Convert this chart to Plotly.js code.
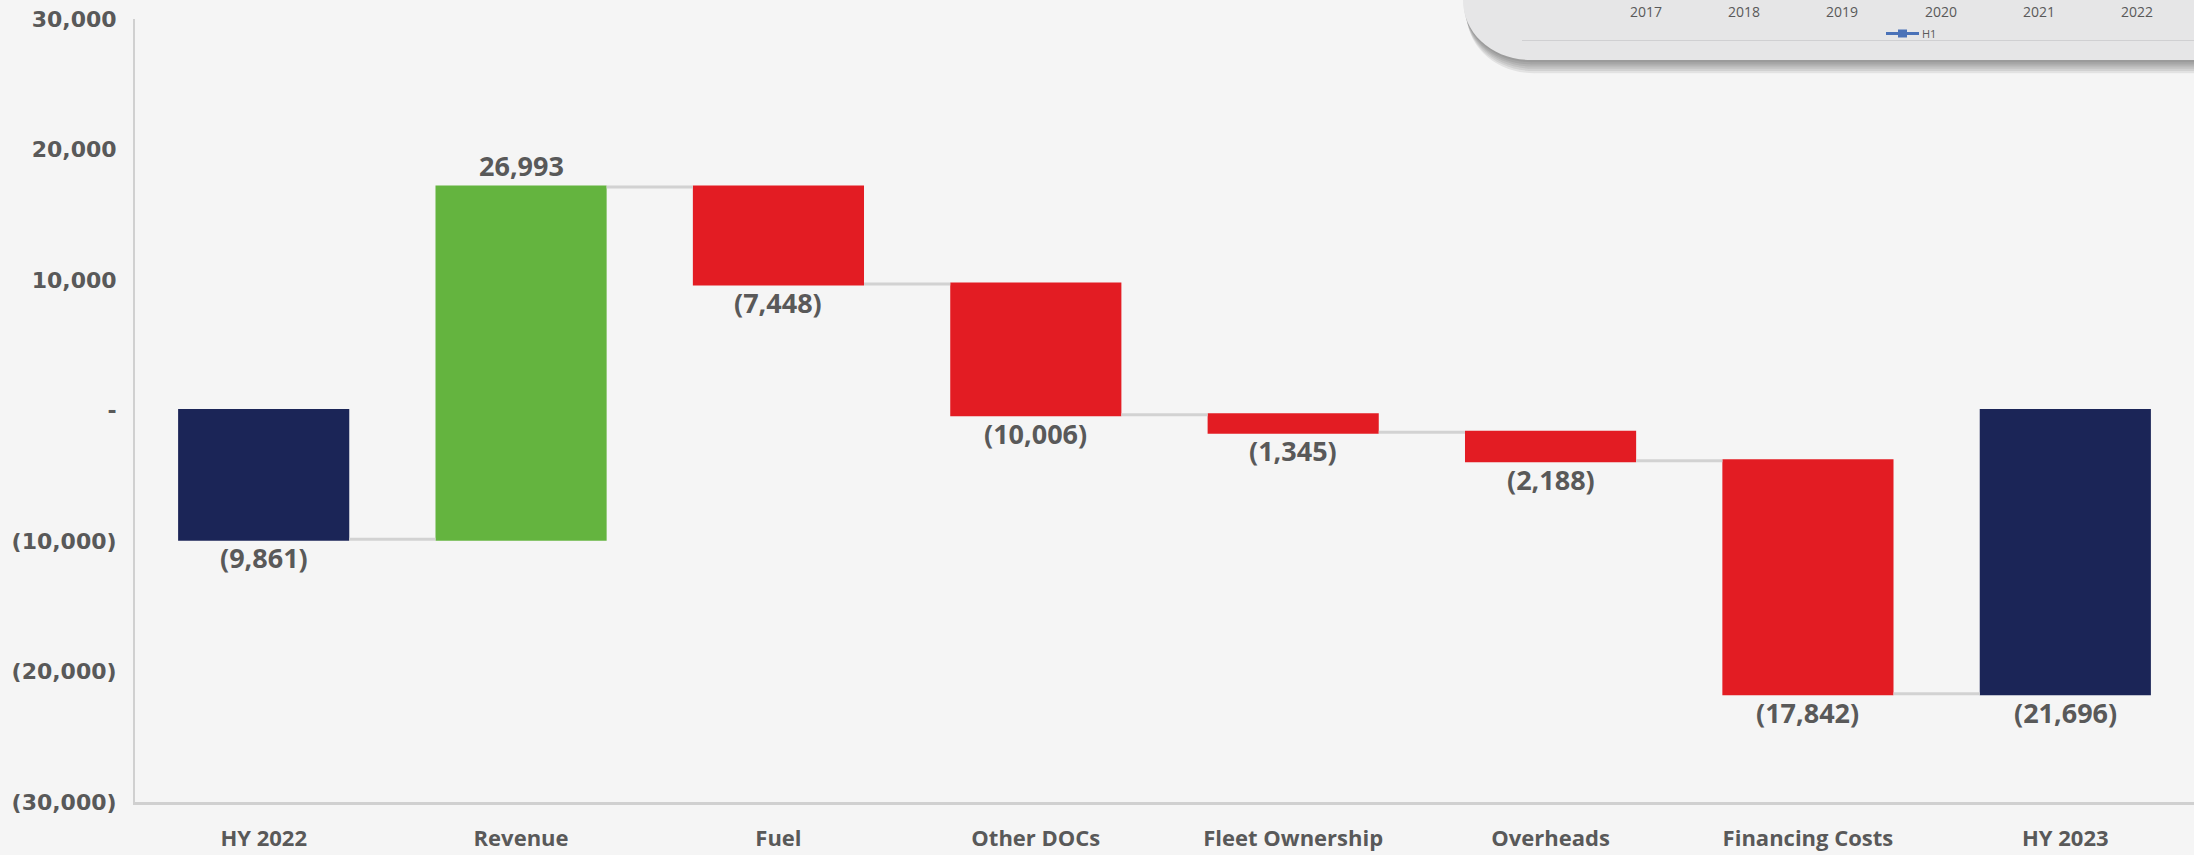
<!DOCTYPE html>
<html>
<head>
<meta charset="utf-8">
<script src="https://cdn.plot.ly/plotly-3.0.1.min.js"></script>
<style>
html,body{margin:0;padding:0;background:#f5f5f5;}
#chart{width:2194px;height:855px;}
</style>
</head>
<body>
<div id="chart"></div>
<script>
// ---- data ----
const categories = ["HY 2022", "Revenue", "Fuel", "Other DOCs", "Fleet Ownership", "Overheads", "Financing Costs", "HY 2023"];
const values = [-9861, 26993, -7448, -10006, -1345, -2188, -17842, -21696];
const measures = ["absolute", "relative", "relative", "relative", "relative", "relative", "relative", "absolute"];
const yTickVals = [30000, 20000, 10000, 0, -10000, -20000, -30000];
const yTickText = ["30,000", "20,000", "10,000", "-", "(10,000)", "(20,000)", "(30,000)"];
const insetYears = ["2017", "2018", "2019", "2020", "2021", "2022"];
const insetLegend = "H1";

// ---- helpers ----
function fmt(v) {
  const s = Math.abs(v).toLocaleString("en-US");
  return v < 0 ? "(" + s + ")" : s;
}
const W = 2194, H = 855;
const L = 135, R = 0, T = 19, B = 53;
const PW = W - L - R, PH = H - T - B;
const px = x => (x - L) / PW;
const py = y => (H - B - y) / PH;

const trace = {
  type: "waterfall",
  x: categories,
  y: values,
  measure: measures,
  textinfo: "none",
  increasing: {marker: {color: "#64b43f"}},
  decreasing: {marker: {color: "#e31c23"}},
  totals: {marker: {color: "#1b2557"}},
  connector: {mode: "between", line: {color: "#d2d2d2", width: 3}},
  hoverinfo: "skip"
};

// value labels placed at each bar's end (computed from the data)
const annotations = [];
let running = 0;
values.forEach((v, i) => {
  let end;
  if (measures[i] === "absolute") { running = v; end = v; }
  else { running += v; end = running; }
  const up = v >= 0;
  annotations.push({
    xref: "x", yref: "y", x: categories[i], y: end,
    text: fmt(v), showarrow: false, xanchor: "center",
    yanchor: up ? "bottom" : "top", yshift: up ? 1 : 2,
    font: {family: "Open Sans", size: 27, color: "#595959", weight: 700}
  });
});

// inset card (cropped chart in top-right)
function cardPath(dx, dy) {
  const x0 = 1463 + dx, yb = 60 + dy, xr = 2200;
  return "M " + px(x0) + "," + py(-20) + " L " + px(x0) + "," + py(0 + dy) +
    " C " + px(x0) + "," + py(34 + dy) + " " + px(x0 + 30) + "," + py(yb) + " " + px(x0 + 68) + "," + py(yb) +
    " L " + px(xr) + "," + py(yb) + " L " + px(xr) + "," + py(-20) + " Z";
}
const shapes = [];
for (let i = 6; i >= 1; i--) {
  shapes.push({type: "path", xref: "paper", yref: "paper", path: cardPath(i * 0.6, i * 2.2),
    fillcolor: "rgba(40,40,40,0.09)", line: {width: 0}, layer: "above"});
}
shapes.push({type: "path", xref: "paper", yref: "paper", path: cardPath(0, 0),
  fillcolor: "#e6e6e7", line: {width: 0}, layer: "above"});
shapes.push({type: "line", xref: "paper", yref: "paper", x0: px(1522), x1: px(2194), y0: py(40.5), y1: py(40.5),
  line: {color: "#d0d0d2", width: 1}, layer: "above"});
shapes.push({type: "line", xref: "paper", yref: "paper", x0: px(1886), x1: px(1919), y0: py(33.5), y1: py(33.5),
  line: {color: "#4a72b8", width: 3}, layer: "above"});
shapes.push({type: "rect", xref: "paper", yref: "paper", x0: px(1898), x1: px(1907), y0: py(29.5), y1: py(37.5),
  fillcolor: "#4a72b8", line: {width: 0}, layer: "above"});

insetYears.forEach((yr, i) => annotations.push({
  xref: "paper", yref: "paper", x: px(1646 + i * 98.2), y: py(11.5),
  text: yr, showarrow: false, xanchor: "center", yanchor: "middle",
  font: {family: "Open Sans", size: 14, color: "#595959"}
}));
annotations.push({xref: "paper", yref: "paper", x: px(1920), y: py(33.5), text: insetLegend,
  showarrow: false, xanchor: "left", yanchor: "middle",
  font: {family: "Open Sans", size: 11, color: "#595959"}});

const layout = {
  width: W, height: H,
  margin: {l: L, r: R, t: T, b: B, pad: 0},
  paper_bgcolor: "#f5f5f5",
  plot_bgcolor: "#f5f5f5",
  showlegend: false,
  waterfallgap: 0.335,
  xaxis: {
    showgrid: false, zeroline: false, showline: true, linecolor: "#d0d0d0", linewidth: 3,
    ticks: "", ticklabelstandoff: 15,
    tickfont: {family: "Open Sans", size: 22, color: "#595959", weight: 700},
    fixedrange: true
  },
  yaxis: {
    range: [-30000, 30000], showgrid: false, zeroline: false,
    showline: true, linecolor: "#d0d0d0", linewidth: 2,
    tickmode: "array", tickvals: yTickVals, ticktext: yTickText,
    ticks: "", ticklabelstandoff: 12,
    tickfont: {family: "DejaVu Sans", size: 22, color: "#595959", weight: 700},
    fixedrange: true
  },
  shapes: shapes,
  annotations: annotations,
  font: {family: "Open Sans", color: "#595959"}
};

Plotly.newPlot("chart", [trace], layout, {displayModeBar: false, staticPlot: true});
</script>
</body>
</html>
